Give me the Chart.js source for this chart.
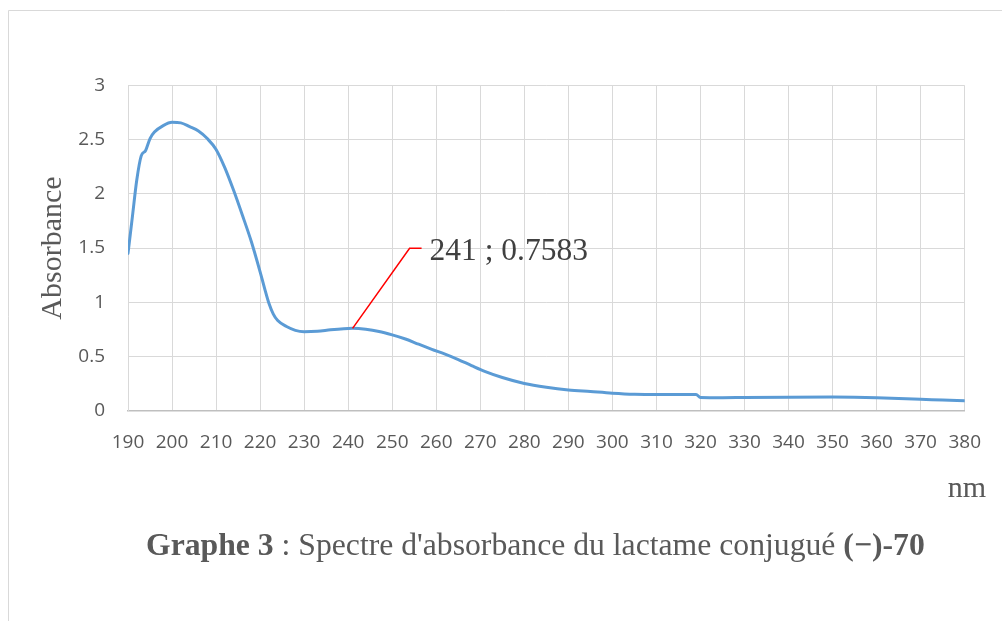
<!DOCTYPE html>
<html>
<head>
<meta charset="utf-8">
<script src="https://cdn.jsdelivr.net/npm/chart.js@4/dist/chart.umd.min.js"></script>
<style>
  html, body { margin: 0; padding: 0; background: #ffffff; }
  #wrap { position: relative; width: 1002px; height: 621px; }
  canvas { display: block; }
</style>
</head>
<body>
<div id="wrap"><canvas id="spectrum" width="1002" height="621"></canvas></div>
<script>
// Wavelength (nm) and measured absorbance of the spectrum
const wavelengths = [
  190, 191, 192, 193, 194, 195, 196, 198, 200, 202,
  204, 206, 208, 210, 212, 214, 216, 218, 220, 221,
  222, 223, 224, 226, 228, 230, 233, 236, 239, 241,
  244, 247, 250, 253, 256, 259, 262, 265, 268, 271,
  275, 280, 285, 290, 295, 300, 305, 310, 315, 319,
  320, 325, 330, 340, 350, 355, 360, 365, 370, 375,
  380
];
const absorbance = [
  1.45, 1.79, 2.13, 2.35, 2.40, 2.51, 2.57, 2.63, 2.66, 2.655,
  2.62, 2.58, 2.51, 2.41, 2.24, 2.03, 1.80, 1.56, 1.28, 1.13,
  0.99, 0.89, 0.83, 0.775, 0.74, 0.728, 0.732, 0.745, 0.755, 0.7583,
  0.75, 0.73, 0.698, 0.66, 0.612, 0.565, 0.52, 0.47, 0.415, 0.362,
  0.305, 0.25, 0.215, 0.19, 0.175, 0.16, 0.15, 0.147, 0.147, 0.148,
  0.12, 0.118, 0.12, 0.123, 0.124, 0.122, 0.118, 0.111, 0.104, 0.096,
  0.089
];

// Axis ranges and tick steps
const xRange = [190, 380];
const xStep = 10;
const yRange = [0, 3];
const yStep = 0.5;

// Point carrying the data label
const markedWavelength = 241;

// Texts
const yTitle = 'Absorbance';
const xTitle = 'nm';
const captionParts = [
  ['Graphe 3', true],
  [" : Spectre d'absorbance du lactame conjugué ", false],
  ['(\u2212)-70', true]
];

const tickFont = { family: "'Open Sans', sans-serif", size: 19 };
const serif = "'Liberation Serif', 'Times New Roman', serif";
const textGrey = '#595959';

const points = wavelengths.map((w, i) => ({ x: w, y: absorbance[i] }));

const decor = {
  id: 'decor',
  beforeDraw(chart) {
    const ctx = chart.ctx;
    ctx.save();
    ctx.fillStyle = '#ffffff';
    ctx.fillRect(0, 0, chart.width, chart.height);
    // frame around the figure
    ctx.strokeStyle = '#d9d9d9';
    ctx.lineWidth = 1;
    ctx.beginPath();
    ctx.moveTo(8.5, chart.height + 2);
    ctx.lineTo(8.5, 10.5);
    ctx.lineTo(chart.width + 2, 10.5);
    ctx.stroke();
    ctx.restore();
  },
  afterDatasetsDraw(chart) {
    const ctx = chart.ctx;
    const xs = chart.scales.x, ys = chart.scales.y;
    const idx = wavelengths.indexOf(markedWavelength);
    const value = absorbance[idx];
    const px = xs.getPixelForValue(markedWavelength);
    const py = ys.getPixelForValue(value);
    const elbowX = px + 57, elbowY = py - 80;
    ctx.save();
    ctx.strokeStyle = '#ff0000';
    ctx.lineWidth = 1.5;
    ctx.beginPath();
    ctx.moveTo(px, py);
    ctx.lineTo(elbowX, elbowY);
    ctx.lineTo(elbowX + 12, elbowY);
    ctx.stroke();
    ctx.fillStyle = '#404040';
    ctx.font = '31.5px ' + serif;
    ctx.textAlign = 'left';
    ctx.textBaseline = 'alphabetic';
    ctx.fillText(markedWavelength + ' ; ' + value, elbowX + 20, elbowY + 11.5);
    ctx.restore();
  },
  afterDraw(chart) {
    const ctx = chart.ctx;
    const area = chart.chartArea;
    ctx.save();
    ctx.fillStyle = textGrey;
    // vertical axis title
    ctx.font = '30px ' + serif;
    ctx.translate(53, (area.top + area.bottom) / 2);
    ctx.rotate(-Math.PI / 2);
    ctx.textAlign = 'center';
    ctx.textBaseline = 'middle';
    ctx.fillText(yTitle, 0, 0);
    ctx.restore();

    ctx.save();
    ctx.fillStyle = textGrey;
    // horizontal axis unit
    ctx.font = '30px ' + serif;
    ctx.textAlign = 'right';
    ctx.textBaseline = 'alphabetic';
    ctx.fillText(xTitle, 986, 497);
    // caption below the chart
    let cx = 146;
    ctx.textAlign = 'left';
    captionParts.forEach(([txt, bold]) => {
      ctx.font = (bold ? 'bold ' : '') + '31.7px ' + serif;
      ctx.fillText(txt, cx, 555);
      cx += ctx.measureText(txt).width;
    });
    ctx.restore();
  }
};

new Chart(document.getElementById('spectrum'), {
  type: 'line',
  data: {
    datasets: [{
      data: points,
      borderColor: '#5b9bd5',
      borderWidth: 3,
      pointRadius: 0,
      pointHoverRadius: 0,
      fill: false,
      cubicInterpolationMode: 'monotone',
      borderCapStyle: 'round',
      borderJoinStyle: 'round'
    }]
  },
  options: {
    responsive: false,
    devicePixelRatio: 1,
    animation: false,
    events: [],
    layout: { padding: { top: 85.5, right: 34, left: 0, bottom: 0 } },
    plugins: { legend: { display: false }, tooltip: { enabled: false } },
    scales: {
      x: {
        type: 'linear',
        min: xRange[0],
        max: xRange[1],
        afterFit(scale) { scale.height = 210.5; },
        ticks: {
          stepSize: xStep,
          autoSkip: false,
          maxRotation: 0,
          padding: 21,
          color: textGrey,
          font: tickFont,
          callback: v => String(v)
        },
        grid: { color: '#d9d9d9', lineWidth: 1, drawTicks: false },
        border: { color: '#bfbfbf', width: 1.5 }
      },
      y: {
        type: 'linear',
        min: yRange[0],
        max: yRange[1],
        afterFit(scale) { scale.width = 128; },
        ticks: {
          stepSize: yStep,
          padding: 23,
          color: textGrey,
          font: tickFont,
          callback: v => String(v)
        },
        grid: { color: '#d9d9d9', lineWidth: 1, drawTicks: false },
        border: { color: '#d9d9d9', width: 1 }
      }
    }
  },
  plugins: [decor]
});
</script>
</body>
</html>
